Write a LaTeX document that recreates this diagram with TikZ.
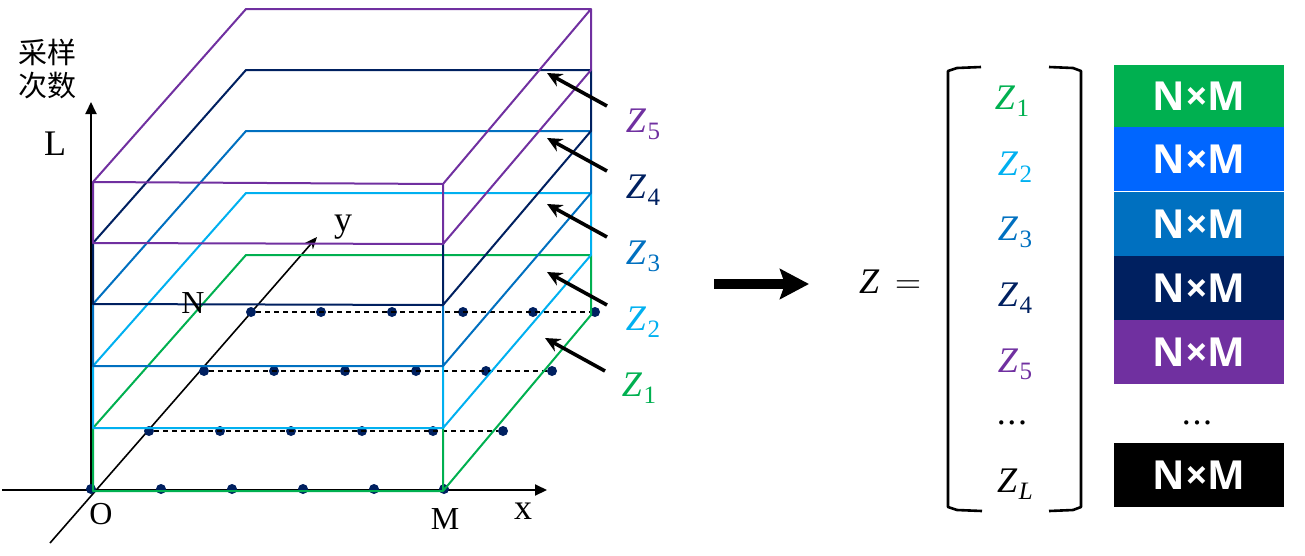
\documentclass[tikz,border=0pt]{standalone}
\usepackage{fix-cm}
\usepackage{amsmath}
\usepackage{fontspec}
\setmainfont{Liberation Serif}
\newfontfamily\cjk{Noto Sans CJK SC}
\newfontfamily\boxfont{Open Sans}
\usepackage{xcolor}
\usepackage{tikz}
\usetikzlibrary{arrows.meta,positioning}
\definecolor{zgreen}{HTML}{00B050}
\definecolor{zcyan}{HTML}{00B0F0}
\definecolor{zblue}{HTML}{0070C0}
\definecolor{znavy}{HTML}{002060}
\definecolor{zpurple}{HTML}{7030A0}
\definecolor{zbright}{HTML}{0066FF}
\newcommand{\sz}[1]{\fontsize{#1}{#1}\selectfont}
\newcommand{\zsym}[1]{\textit{Z}\kern1.5pt\raisebox{-7pt}{\sz{25}#1}}
\newcommand{\gapdots}{.\kern1.6pt.\kern1.6pt.}

\begin{document}
\begin{tikzpicture}[
  x=1pt, y=-1pt,
  slice/.style={line width=2pt, line join=round},
  axis/.style={-{Triangle[length=12pt,width=11pt]}, line width=2pt},
  yaxis/.style={-{Stealth[length=12pt,width=10pt]}, line width=1.6pt},
  pointer/.style={-{Stealth[length=15pt,width=14pt]}, line width=3.6pt},
  dotn/.style={circle, fill=znavy, inner sep=0pt, minimum size=10pt},
  row/.style={line width=1.5pt, dash pattern=on 5pt off 4pt},
  lab/.style={inner sep=0pt, font=\sz{32}},
  zlab/.style={inner sep=0pt, font=\sz{36}},
  size/.style={minimum width=170pt, inner sep=0pt, text=white, font=\boxfont\bfseries\sz{40}},
  brk/.style={line width=2.6pt, line join=round}
]
  \useasboundingbox (0,0) rectangle (1305,555);

  \coordinate (o) at (91,490);
  \coordinate (xend) at (547,490);
  \coordinate (xstart) at (2,490);
  \coordinate (lend) at (91,102);
  \coordinate (ystart) at (50,543);
  \coordinate (yend) at (317,237);
  \draw[yaxis] (ystart) -- (yend);
  \draw[axis] (xstart) -- (xend);
  \draw[axis] (o) -- (lend);

  \foreach \x [count=\i] in {91,161,232,303,374,444} \node[dotn] (d\i) at (\x,489) {};
  \foreach \x [count=\i] in {149,220,291,362,433,503} \node[dotn] (c\i) at (\x,431) {};
  \foreach \x [count=\i] in {204,274,345,416,486,552} \node[dotn] (b\i) at (\x,371) {};
  \foreach \x [count=\i] in {251,321,392,463,533,595} \node[dotn] (a\i) at (\x,312) {};
  \draw[row] (c1) -- (c6);
  \draw[row] (b1) -- (b6);
  \draw[row] (a1) -- (a6);

  \draw[slice, zgreen] (93,428) -- (93,491) -- (443,491) -- (443,428) (443,491) -- (591,315) -- (591,255) -- (246,255) -- (93,428);
  \draw[slice, zcyan] (93,366) -- (93,428) -- (443,428) -- (443,366) (443,428) -- (591,255) -- (591,193) -- (246,193) -- (93,366);
  \draw[slice, zblue] (93,304) -- (93,366) -- (443,366) -- (443,305) (443,366) -- (591,193) -- (591,131) -- (246,131) -- (93,304);
  \draw[slice, znavy] (93,243) -- (93,304) -- (443,305) -- (443,244) (443,305) -- (591,131) -- (591,70) -- (246,70) -- (93,243);
  \draw[slice, zpurple] (93,182) -- (93,243) -- (443,244) -- (443,184) -- cycle (443,244) -- (591,70) -- (591,9) -- (246,9) -- (93,182) (443,184) -- (591,9);

  \node[lab, font=\sz{36}] (lname) at (55,144) {L};
  \node[lab] (oname) at (101,514) {O};
  \node[lab] (mname) at (445,519) {M};
  \node[lab] (nname) at (193,303) {N};
  \node[lab, font=\sz{36}] (xname) at (523,511) {x};
  \node[lab, font=\sz{36}] (yname) at (343,227) {y};
  \node[inner sep=0pt, align=center, font=\cjk\sz{29}] (count) at (47,69) {采样\\[4pt]次数};

  \node[zlab, text=zpurple] (z5) at (643,124) {\zsym{5}};
  \node[zlab, text=znavy] (z4) at (643,190) {\zsym{4}};
  \node[zlab, text=zblue] (z3) at (643,256) {\zsym{3}};
  \node[zlab, text=zcyan] (z2) at (643,322) {\zsym{2}};
  \node[zlab, text=zgreen] (z1) at (639,388) {\zsym{1}};

  \coordinate (s5) at (607,106);
  \coordinate (t5) at (547,73);
  \coordinate (s4) at (607,171);
  \coordinate (t4) at (547,138);
  \coordinate (s3) at (607,237);
  \coordinate (t3) at (547,204);
  \coordinate (s2) at (607,305);
  \coordinate (t2) at (547,272);
  \coordinate (s1) at (605,371);
  \coordinate (t1) at (545,338);
  \draw[pointer] (s5) -- (t5);
  \draw[pointer] (s4) -- (t4);
  \draw[pointer] (s3) -- (t3);
  \draw[pointer] (s2) -- (t2);
  \draw[pointer] (s1) -- (t1);

  \coordinate (big1) at (714,284);
  \coordinate (big2) at (809,284);
  \draw[-{Stealth[length=29pt,width=30pt,inset=5pt]}, line width=10pt] (big1) -- (big2);

  \node[zlab, text=black] (zz) at (890,282) {$\mathit{Z}\,=$};
  \draw[brk] (981,67) -- (957,68) -- (948,71) -- (948,507) -- (957,510) -- (982,511);
  \draw[brk] (1049,67) -- (1073,68) -- (1081,71) -- (1081,507) -- (1073,510) -- (1049,511);

  \node[zlab, text=zgreen] (m1) at (1012,101) {\zsym{1}};
  \node[zlab, text=zcyan] (m2) at (1015,167) {\zsym{2}};
  \node[zlab, text=zblue] (m3) at (1015,232) {\zsym{3}};
  \node[zlab, text=znavy] (m4) at (1015,298) {\zsym{4}};
  \node[zlab, text=zpurple] (m5) at (1015,364) {\zsym{5}};
  \node[zlab] (m6) at (1012,423) {\gapdots};
  \node[zlab, text=black] (mL) at (1015,484) {\zsym{\textit{L}}};

  \node[size, minimum height=62pt, fill=zgreen] (n1) at (1199,96) {N×M};
  \node[size, minimum height=64pt, fill=zbright] (n2) at (1199,159) {N×M};
  \node[size, minimum height=64pt, fill=zblue] (n3) at (1199,224) {N×M};
  \node[size, minimum height=64pt, fill=znavy] (n4) at (1199,288) {N×M};
  \node[size, minimum height=64pt, fill=zpurple] (n5) at (1199,352) {N×M};
  \node[zlab] (n6) at (1197,423) {\gapdots};
  \node[size, minimum height=64pt, fill=black] (n7) at (1199,475) {N×M};
\end{tikzpicture}
\end{document}
